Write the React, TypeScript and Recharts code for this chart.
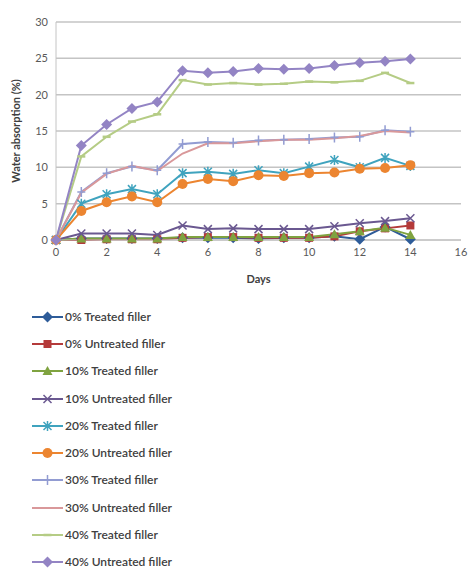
import React from "react";
import { LineChart, Line, XAxis, YAxis, CartesianGrid } from "recharts";

const days = [0, 1, 2, 3, 4, 5, 6, 7, 8, 9, 10, 11, 12, 13, 14];
const xTicks = [0, 2, 4, 6, 8, 10, 12, 14, 16];
const yTicks = [0, 5, 10, 15, 20, 25, 30];

const treated0 = [0, 0.2, 0.2, 0.2, 0.2, 0.3, 0.3, 0.3, 0.2, 0.3, 0.3, 0.5, 0.1, 1.8, 0.1];
const untreated0 = [0, 0, 0.1, 0.1, 0.1, 0.3, 0.4, 0.4, 0.3, 0.3, 0.3, 0.5, 1.2, 1.6, 2.0];
const treated10 = [0, 0.2, 0.2, 0.2, 0.2, 0.4, 0.4, 0.4, 0.4, 0.4, 0.4, 0.8, 1.2, 1.7, 0.7];
const untreated10 = [0, 0.9, 0.9, 0.9, 0.7, 2.0, 1.5, 1.6, 1.5, 1.5, 1.5, 1.9, 2.3, 2.6, 3.0];
const treated20 = [0, 5.0, 6.3, 7.0, 6.3, 9.2, 9.4, 9.1, 9.6, 9.2, 10.1, 11.0, 10.0, 11.3, 10.2];
const untreated20 = [0, 4.0, 5.2, 6.0, 5.2, 7.7, 8.4, 8.1, 8.9, 8.8, 9.2, 9.3, 9.8, 9.9, 10.3];
const treated30 = [0, 6.6, 9.2, 10.1, 9.6, 13.2, 13.5, 13.4, 13.7, 13.8, 13.9, 14.1, 14.2, 15.1, 14.9];
const untreated30 = [0, 6.5, 9.1, 10.2, 9.5, 11.9, 13.3, 13.3, 13.6, 13.8, 13.8, 14.0, 14.3, 15.0, 14.8];
const treated40 = [0, 11.5, 14.2, 16.3, 17.3, 22.0, 21.4, 21.6, 21.4, 21.5, 21.8, 21.7, 21.9, 23.0, 21.6];
const untreated40 = [0, 13.0, 15.9, 18.1, 19.0, 23.3, 23.0, 23.2, 23.6, 23.5, 23.6, 24.0, 24.4, 24.6, 24.9];

const series = [
  { key: "t0", name: "0% Treated filler", values: treated0, color: "#2E5C99", shape: "diamond" },
  { key: "u0", name: "0% Untreated filler", values: untreated0, color: "#B43A3A", shape: "square" },
  { key: "t10", name: "10% Treated filler", values: treated10, color: "#7FA340", shape: "triangle" },
  { key: "u10", name: "10% Untreated filler", values: untreated10, color: "#6A5890", shape: "x" },
  { key: "t20", name: "20% Treated filler", values: treated20, color: "#3FA3BE", shape: "star" },
  { key: "u20", name: "20% Untreated filler", values: untreated20, color: "#EC8530", shape: "circle" },
  { key: "t30", name: "30% Treated filler", values: treated30, color: "#929CD2", shape: "plus" },
  { key: "u30", name: "30% Untreated filler", values: untreated30, color: "#D9989A", shape: "none" },
  { key: "t40", name: "40% Treated filler", values: treated40, color: "#B5CC85", shape: "dash" },
  { key: "u40", name: "40% Untreated filler", values: untreated40, color: "#9384C4", shape: "diamond" },
];

const data = days.map((d, i) => {
  const row: any = { day: d };
  series.forEach((s) => (row[s.key] = s.values[i]));
  return row;
});

function Marker({ shape, cx, cy, color }: { shape: string; cx: number; cy: number; color: string }) {
  if (cx == null || cy == null) return null;
  switch (shape) {
    case "diamond":
      return <path d={`M${cx},${cy - 5.5}L${cx + 5.5},${cy}L${cx},${cy + 5.5}L${cx - 5.5},${cy}Z`} fill={color} />;
    case "square":
      return <rect x={cx - 4} y={cy - 4} width={8} height={8} fill={color} />;
    case "triangle":
      return <path d={`M${cx},${cy - 5}L${cx + 5},${cy + 4}L${cx - 5},${cy + 4}Z`} fill={color} />;
    case "x":
      return (
        <path d={`M${cx - 4},${cy - 4}L${cx + 4},${cy + 4}M${cx + 4},${cy - 4}L${cx - 4},${cy + 4}`} stroke={color} strokeWidth={1.5} />
      );
    case "star":
      return (
        <path
          d={`M${cx - 4},${cy - 4}L${cx + 4},${cy + 4}M${cx + 4},${cy - 4}L${cx - 4},${cy + 4}M${cx},${cy - 5}L${cx},${cy + 5}`}
          stroke={color}
          strokeWidth={1.5}
        />
      );
    case "circle":
      return <circle cx={cx} cy={cy} r={5} fill={color} />;
    case "plus":
      return <path d={`M${cx},${cy - 5}L${cx},${cy + 5}M${cx - 4},${cy}L${cx + 4},${cy}`} stroke={color} strokeWidth={1.5} />;
    case "dash":
      return <path d={`M${cx - 4},${cy}L${cx + 4},${cy}`} stroke={color} strokeWidth={2.5} />;
    default:
      return null;
  }
}

const font = "Lato, 'Open Sans', sans-serif";

export default function App() {
  return (
    <div style={{ position: "absolute", left: 0, top: 0, width: 468, height: 570, background: "#fff", fontFamily: font }}>
      <LineChart width={468} height={300} data={data} margin={{ top: 22, right: 7, bottom: 15, left: 6 }}>
        <CartesianGrid vertical={false} stroke="#C4C4C4" strokeWidth={1.5} />
        <XAxis
          dataKey="day"
          type="number"
          domain={[0, 16]}
          ticks={xTicks}
          tickLine={false}
          axisLine={{ stroke: "#C4C4C4" }}
          tick={{ fontSize: 11, fill: "#595959", fontFamily: font }}
          height={45}
          label={{ value: "Days", position: "insideBottom", offset: 2, style: { fontSize: 11, fontWeight: 700, fill: "#404040", fontFamily: font } }}
        />
        <YAxis
          type="number"
          domain={[0, 30]}
          ticks={yTicks}
          tickLine={false}
          axisLine={{ stroke: "#C4C4C4" }}
          tick={{ fontSize: 11, fill: "#595959", fontFamily: font }}
          width={50}
          label={{
            value: "Water absorption (%)",
            angle: -90,
            position: "insideLeft",
            offset: 10,
            style: { textAnchor: "middle", fontSize: 11, fontWeight: 700, fill: "#404040", fontFamily: font },
          }}
        />
        {series.map((s) => (
          <Line
            key={s.key}
            dataKey={s.key}
            name={s.name}
            stroke={s.color}
            strokeWidth={2}
            isAnimationActive={false}
            dot={(p: any) => <Marker key={`${s.key}-${p.index}`} shape={s.shape} cx={p.cx} cy={p.cy} color={s.color} />}
            activeDot={false}
          />
        ))}
      </LineChart>
      <div style={{ position: "absolute", left: 32, top: 303 }}>
        {series.map((s) => (
          <div key={s.key} style={{ display: "flex", alignItems: "center", height: 27.3 }}>
            <svg width={31} height={14}>
              <line x1={0} y1={7} x2={31} y2={7} stroke={s.color} strokeWidth={2} />
              <Marker shape={s.shape} cx={15.5} cy={7} color={s.color} />
            </svg>
            <span style={{ marginLeft: 2, fontSize: 12, lineHeight: "14px", color: "#404040", fontWeight: 600 }}>{s.name}</span>
          </div>
        ))}
      </div>
    </div>
  );
}
